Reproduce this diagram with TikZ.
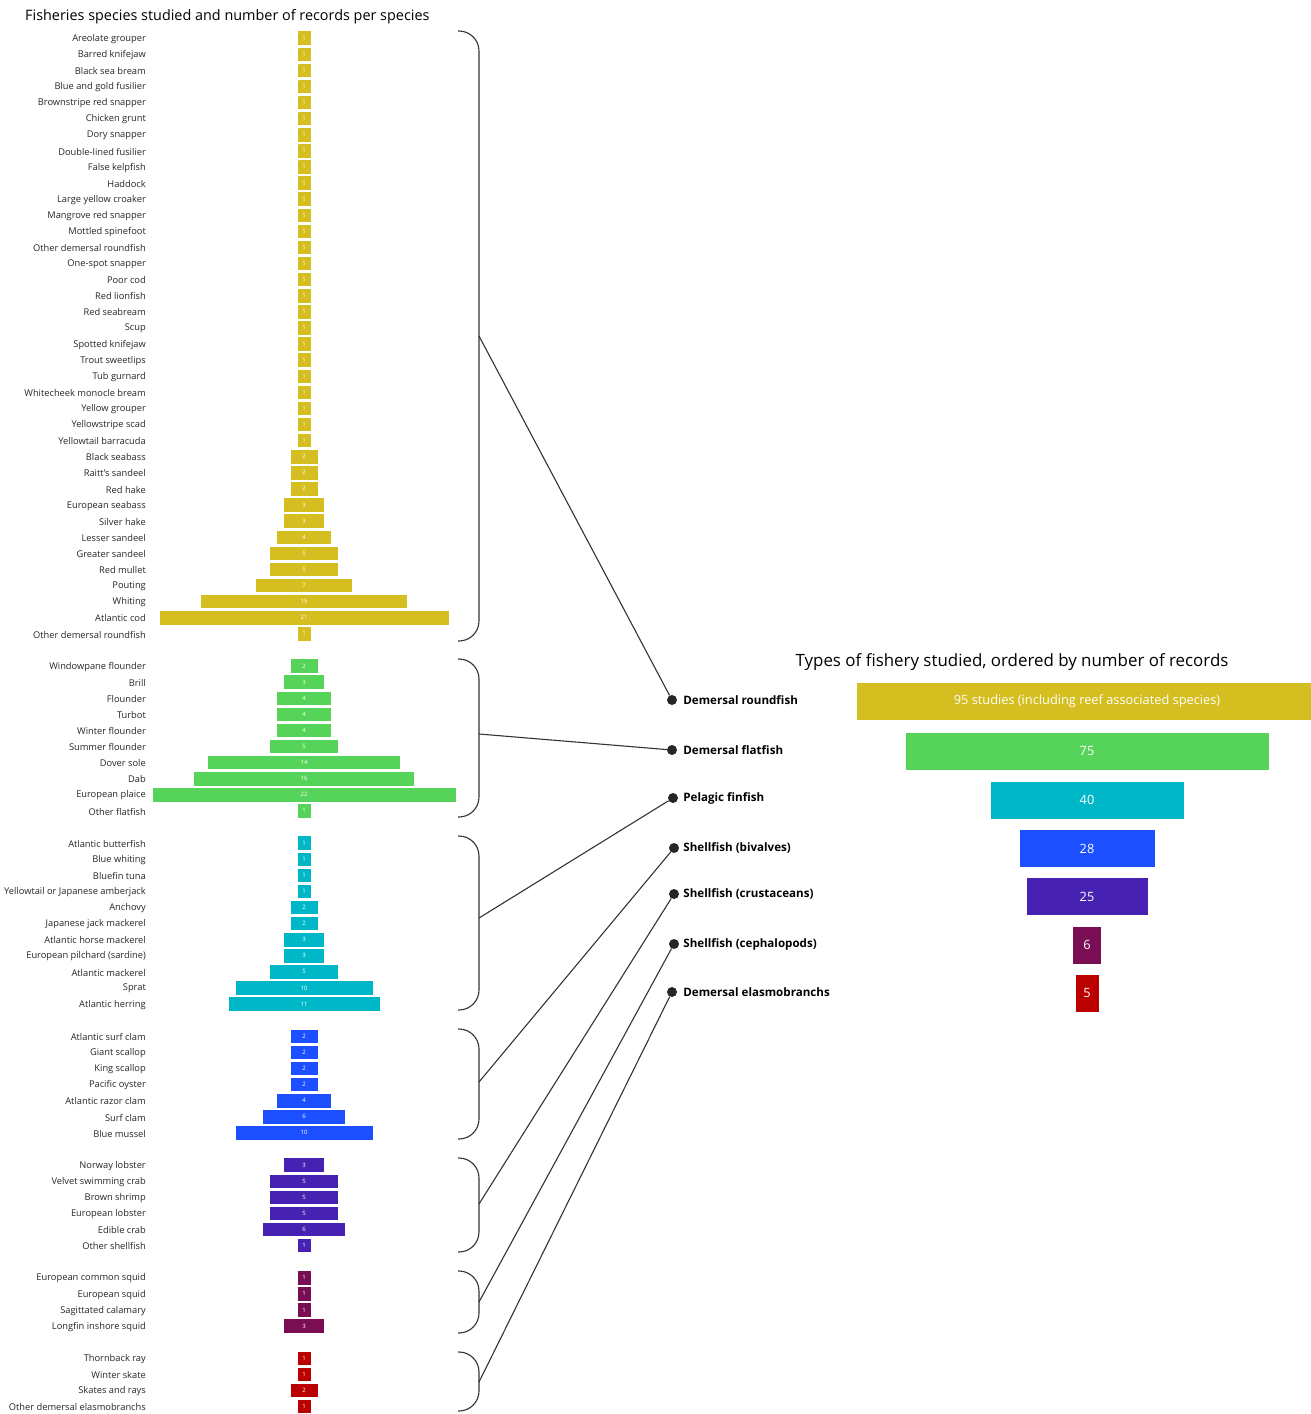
\documentclass[tikz,border=0pt]{standalone}
\usepackage{fontspec}
\setmainfont{Open Sans}
\usetikzlibrary{positioning}

\definecolor{roundfish}{HTML}{D4BE20}
\definecolor{flatfish}{HTML}{56D45A}
\definecolor{pelagic}{HTML}{00B7C7}
\definecolor{bivalves}{HTML}{1C4FFF}
\definecolor{crustaceans}{HTML}{4722B2}
\definecolor{cephalopods}{HTML}{7A0E54}
\definecolor{elasmo}{HTML}{BA0000}

\tikzset{
  species/.style={anchor=east,inner sep=0pt,text=black!85,font=\fontsize{9.3}{10}\selectfont},
  spbar/.style={rectangle,draw=white,line width=0.6pt,minimum height=14.5,inner sep=0pt,text=white,font=\fontsize{6}{6}\selectfont},
  typebar/.style={rectangle,draw=white,line width=0.6pt,minimum height=38,inner sep=0pt,text=white,font=\fontsize{12.8}{14}\selectfont},
  brace/.style={draw=black!80,line width=1.1pt,rounded corners=20},
  link/.style={draw=black!80,line width=1.1pt},
  dot/.style={circle,fill=black!85,inner sep=0pt,minimum size=10},
  typelabel/.style={anchor=west,inner sep=0pt,font=\bfseries\fontsize{11.6}{13}\selectfont}
}

\begin{document}
\begin{tikzpicture}[x=1pt,y=-1pt]
  \clip (0,0) rectangle (1311,1414);
  \fill[white] (0,0) rectangle (1311,1414);

  % titles
  \node[anchor=west,inner sep=0pt,font=\fontsize{14.4}{16}\selectfont] (title-species) at (25,17) {Fisheries species studied and number of records per species};
  \node[inner sep=0pt,font=\fontsize{16.9}{18}\selectfont] (title-types) at (1012,662) {Types of fishery studied, ordered by number of records};

  % demersal roundfish
  \foreach \name/\val [count=\i from 0] in {Areolate grouper/1, Barred knifejaw/1, Black sea bream/1, Blue and gold fusilier/1, Brownstripe red snapper/1, Chicken grunt/1, Dory snapper/1, Double-lined fusilier/1, False kelpfish/1, Haddock/1, Large yellow croaker/1, Mangrove red snapper/1, Mottled spinefoot/1, Other demersal roundfish/1, One-spot snapper/1, Poor cod/1, Red lionfish/1, Red seabream/1, Scup/1, Spotted knifejaw/1, Trout sweetlips/1, Tub gurnard/1, Whitecheek monocle bream/1, Yellow grouper/1, Yellowstripe scad/1, Yellowtail barracuda/1, Black seabass/2, Raitt's sandeel/2, Red hake/2, European seabass/3, Silver hake/3, Lesser sandeel/4, Greater sandeel/5, Red mullet/5, Pouting/7, Whiting/15, Atlantic cod/21, Other demersal roundfish/1} {
    \pgfmathsetmacro\y{38+16.1*\i}
    \node[species] (rf-name-\i) at (146,\y+0.8) {\name};
    \node[spbar,fill=roundfish,minimum width=13.8*\val] (rf-bar-\i) at (304,\y) {\val};
  }
  \draw[brace] (458,31) -- (479,31) -- (479,641) -- (458,641);
  \coordinate (rf-tip) at (479,336);

  % demersal flatfish
  \foreach \name/\val [count=\i from 39] in {Windowpane flounder/2, Brill/3, Flounder/4, Turbot/4, Winter flounder/4, Summer flounder/5, Dover sole/14, Dab/16, European plaice/22, Other flatfish/1} {
    \pgfmathsetmacro\y{38+16.1*\i}
    \node[species] (ff-name-\i) at (146,\y+0.8) {\name};
    \node[spbar,fill=flatfish,minimum width=13.8*\val] (ff-bar-\i) at (304,\y) {\val};
  }
  \draw[brace] (458,659) -- (479,659) -- (479,817) -- (458,817);
  \coordinate (ff-tip) at (479,734);

  % pelagic finfish
  \foreach \name/\val [count=\i from 50] in {Atlantic butterfish/1, Blue whiting/1, Bluefin tuna/1, Yellowtail or Japanese amberjack/1, Anchovy/2, Japanese jack mackerel/2, Atlantic horse mackerel/3, European pilchard (sardine)/3, Atlantic mackerel/5, Sprat/10, Atlantic herring/11} {
    \pgfmathsetmacro\y{38+16.1*\i}
    \node[species] (pf-name-\i) at (146,\y+0.8) {\name};
    \node[spbar,fill=pelagic,minimum width=13.8*\val] (pf-bar-\i) at (304,\y) {\val};
  }
  \draw[brace] (458,836) -- (479,836) -- (479,1010) -- (458,1010);
  \coordinate (pf-tip) at (479,918);

  % shellfish (bivalves)
  \foreach \name/\val [count=\i from 62] in {Atlantic surf clam/2, Giant scallop/2, King scallop/2, Pacific oyster/2, Atlantic razor clam/4, Surf clam/6, Blue mussel/10} {
    \pgfmathsetmacro\y{38+16.1*\i}
    \node[species] (bv-name-\i) at (146,\y+0.8) {\name};
    \node[spbar,fill=bivalves,minimum width=13.8*\val] (bv-bar-\i) at (304,\y) {\val};
  }
  \draw[brace] (458,1029) -- (479,1029) -- (479,1139) -- (458,1139);
  \coordinate (bv-tip) at (479,1082);

  % shellfish (crustaceans)
  \foreach \name/\val [count=\i from 70] in {Norway lobster/3, Velvet swimming crab/5, Brown shrimp/5, European lobster/5, Edible crab/6, Other shellfish/1} {
    \pgfmathsetmacro\y{38+16.1*\i}
    \node[species] (cr-name-\i) at (146,\y+0.8) {\name};
    \node[spbar,fill=crustaceans,minimum width=13.8*\val] (cr-bar-\i) at (304,\y) {\val};
  }
  \draw[brace] (458,1158) -- (479,1158) -- (479,1252) -- (458,1252);
  \coordinate (cr-tip) at (479,1204);

  % shellfish (cephalopods)
  \foreach \name/\val [count=\i from 77] in {European common squid/1, European squid/1, Sagittated calamary/1, Longfin inshore squid/3} {
    \pgfmathsetmacro\y{38+16.1*\i}
    \node[species] (ce-name-\i) at (146,\y+0.8) {\name};
    \node[spbar,fill=cephalopods,minimum width=13.8*\val] (ce-bar-\i) at (304,\y) {\val};
  }
  \draw[brace] (458,1271) -- (479,1271) -- (479,1333) -- (458,1333);
  \coordinate (ce-tip) at (479,1302);

  % demersal elasmobranchs
  \foreach \name/\val [count=\i from 82] in {Thornback ray/1, Winter skate/1, Skates and rays/2, Other demersal elasmobranchs/1} {
    \pgfmathsetmacro\y{38+16.1*\i}
    \node[species] (el-name-\i) at (146,\y+0.8) {\name};
    \node[spbar,fill=elasmo,minimum width=13.8*\val] (el-bar-\i) at (304,\y) {\val};
  }
  \draw[brace] (458,1352) -- (479,1352) -- (479,1411) -- (458,1411);
  \coordinate (el-tip) at (479,1382);

  % fishery types
  \node[dot] (rf-dot) at (672,700) {};
  \node[dot] (ff-dot) at (672,750) {};
  \node[dot] (pf-dot) at (673,798) {};
  \node[dot] (bv-dot) at (674,848) {};
  \node[dot] (cr-dot) at (674,894) {};
  \node[dot] (ce-dot) at (674,944) {};
  \node[dot] (el-dot) at (672,992) {};
  \node[typelabel,right=6pt of rf-dot] (rf-label) {Demersal roundfish};
  \node[typelabel,right=6pt of ff-dot] (ff-label) {Demersal flatfish};
  \node[typelabel,right=5pt of pf-dot] (pf-label) {Pelagic finfish};
  \node[typelabel,right=4pt of bv-dot] (bv-label) {Shellfish (bivalves)};
  \node[typelabel,right=4pt of cr-dot] (cr-label) {Shellfish (crustaceans)};
  \node[typelabel,right=4pt of ce-dot] (ce-label) {Shellfish (cephalopods)};
  \node[typelabel,right=6pt of el-dot] (el-label) {Demersal elasmobranchs};

  % links
  \draw[link] (rf-tip) -- (rf-dot);
  \draw[link] (ff-tip) -- (ff-dot);
  \draw[link] (pf-tip) -- (pf-dot);
  \draw[link] (bv-tip) -- (bv-dot);
  \draw[link] (cr-tip) -- (cr-dot);
  \draw[link] (ce-tip) -- (ce-dot);
  \draw[link] (el-tip) -- (el-dot);

  % records per type
  \node[typebar,fill=roundfish,minimum width=462] (rf-type) at (1087,701) {95 studies (including reef associated species)};
  \node[typebar,fill=flatfish,minimum width=364] (ff-type) at (1087,751) {75};
  \node[typebar,fill=pelagic,minimum width=194] (pf-type) at (1087,800) {40};
  \node[typebar,fill=bivalves,minimum width=136] (bv-type) at (1087,848.5) {28};
  \node[typebar,fill=crustaceans,minimum width=122] (cr-type) at (1087,896.5) {25};
  \node[typebar,fill=cephalopods,minimum width=29] (ce-type) at (1087,945) {6};
  \node[typebar,fill=elasmo,minimum width=24] (el-type) at (1087,993) {5};
\end{tikzpicture}
\end{document}
